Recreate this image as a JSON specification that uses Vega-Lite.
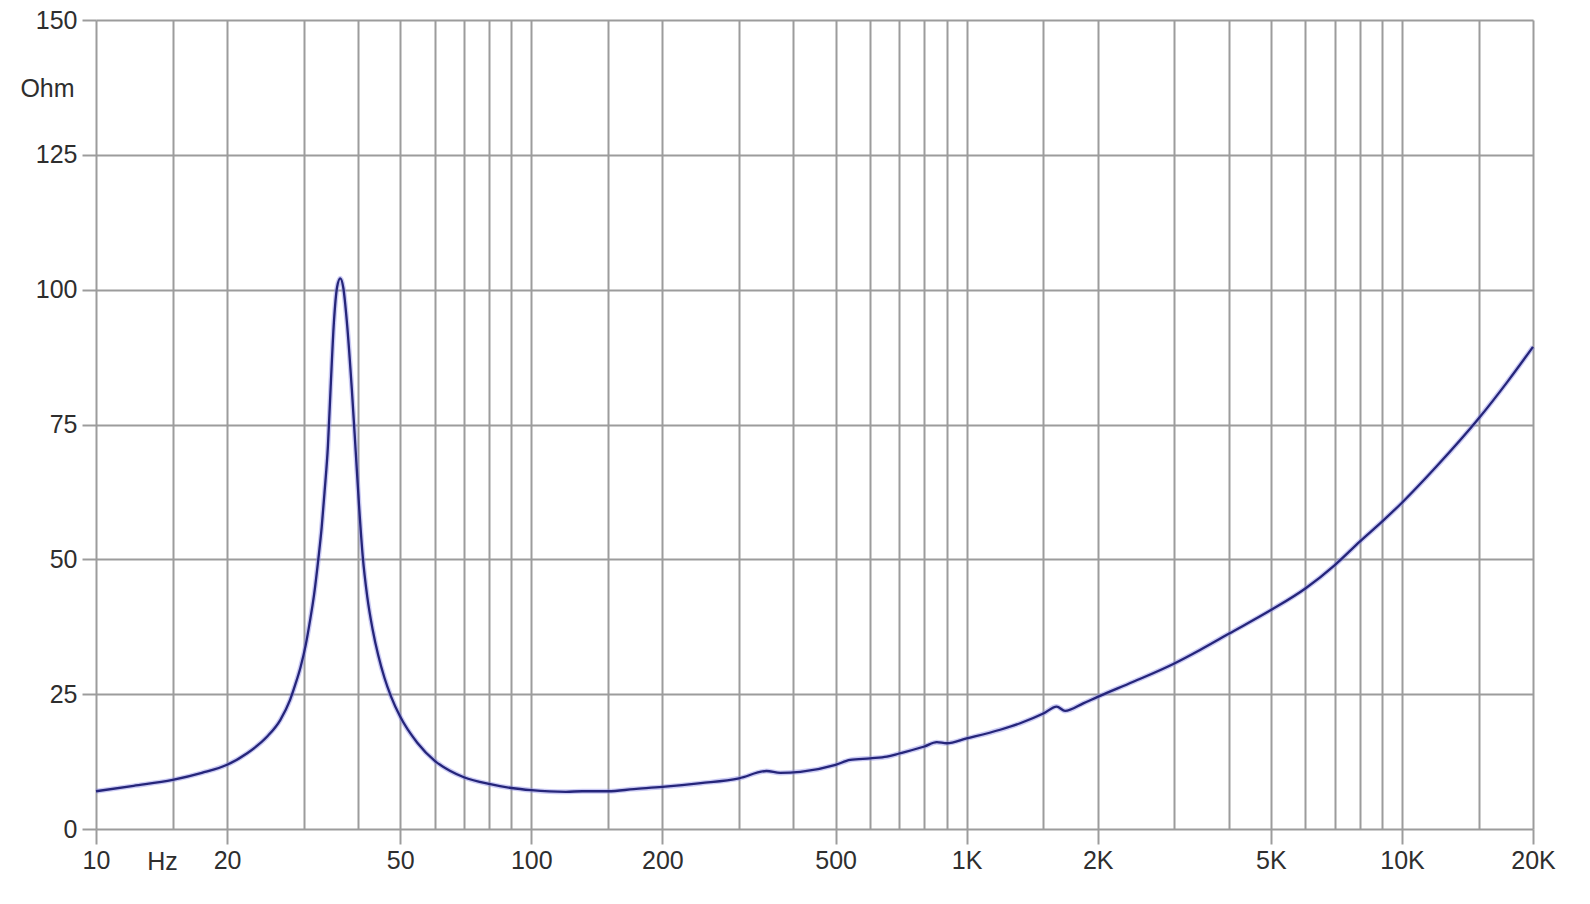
{
  "$schema": "https://vega.github.io/schema/vega-lite/v6.json",
  "width": 1437,
  "height": 809,
  "autosize": {"type": "none"},
  "padding": {"left": 96, "top": 20, "right": 57, "bottom": 75},
  "background": "white",
  "data": {
    "values": [
      {"freq": 10, "ohm": 7.0},
      {"freq": 12.2, "ohm": 8.0},
      {"freq": 15, "ohm": 9.1},
      {"freq": 17.5, "ohm": 10.4},
      {"freq": 20, "ohm": 11.9},
      {"freq": 22.2, "ohm": 14.0},
      {"freq": 24.7, "ohm": 17.1},
      {"freq": 26.5, "ohm": 20.2},
      {"freq": 27.9, "ohm": 23.9},
      {"freq": 28.7, "ohm": 26.8},
      {"freq": 29.5, "ohm": 30.0},
      {"freq": 30.3, "ohm": 34.0},
      {"freq": 31.0, "ohm": 38.5},
      {"freq": 31.7, "ohm": 43.5},
      {"freq": 32.4, "ohm": 49.9},
      {"freq": 33.0, "ohm": 56.0},
      {"freq": 33.5, "ohm": 62.5},
      {"freq": 34.1, "ohm": 71.0},
      {"freq": 34.6, "ohm": 82.0},
      {"freq": 35.2, "ohm": 94.0},
      {"freq": 35.8, "ohm": 100.5},
      {"freq": 36.4, "ohm": 102.1},
      {"freq": 37.0, "ohm": 100.3},
      {"freq": 37.7, "ohm": 94.0},
      {"freq": 38.7, "ohm": 81.5},
      {"freq": 39.5, "ohm": 70.0},
      {"freq": 40.2, "ohm": 60.0},
      {"freq": 41.0, "ohm": 50.5},
      {"freq": 42.0, "ohm": 43.0},
      {"freq": 43.2, "ohm": 37.0},
      {"freq": 44.5, "ohm": 32.2},
      {"freq": 46.0, "ohm": 28.0},
      {"freq": 47.6, "ohm": 24.6},
      {"freq": 50, "ohm": 20.8},
      {"freq": 54.7, "ohm": 16.0},
      {"freq": 60.1, "ohm": 12.6},
      {"freq": 65, "ohm": 10.8},
      {"freq": 70, "ohm": 9.6},
      {"freq": 80.5, "ohm": 8.3},
      {"freq": 90, "ohm": 7.6},
      {"freq": 100, "ohm": 7.2},
      {"freq": 120, "ohm": 6.9},
      {"freq": 131, "ohm": 7.0},
      {"freq": 150, "ohm": 7.0},
      {"freq": 172, "ohm": 7.4},
      {"freq": 200, "ohm": 7.8},
      {"freq": 245, "ohm": 8.5},
      {"freq": 300, "ohm": 9.4},
      {"freq": 347, "ohm": 10.75},
      {"freq": 373, "ohm": 10.4},
      {"freq": 415, "ohm": 10.6},
      {"freq": 500, "ohm": 11.9},
      {"freq": 540, "ohm": 12.8},
      {"freq": 600, "ohm": 13.1},
      {"freq": 656, "ohm": 13.4},
      {"freq": 700, "ohm": 14.0},
      {"freq": 800, "ohm": 15.3},
      {"freq": 854, "ohm": 16.1},
      {"freq": 900, "ohm": 15.9},
      {"freq": 1000, "ohm": 16.8},
      {"freq": 1194, "ohm": 18.4},
      {"freq": 1327, "ohm": 19.6},
      {"freq": 1500, "ohm": 21.4},
      {"freq": 1610, "ohm": 22.7},
      {"freq": 1683, "ohm": 21.9},
      {"freq": 1853, "ohm": 23.3},
      {"freq": 2000, "ohm": 24.5},
      {"freq": 2414, "ohm": 27.3},
      {"freq": 3000, "ohm": 30.7},
      {"freq": 3436, "ohm": 33.2},
      {"freq": 4000, "ohm": 36.2},
      {"freq": 5000, "ohm": 40.6},
      {"freq": 6000, "ohm": 44.6},
      {"freq": 7000, "ohm": 48.9},
      {"freq": 8000, "ohm": 53.3},
      {"freq": 9000, "ohm": 57.0},
      {"freq": 10000, "ohm": 60.5},
      {"freq": 12000, "ohm": 67.2},
      {"freq": 15000, "ohm": 76.1},
      {"freq": 17500, "ohm": 83.0},
      {"freq": 20000, "ohm": 89.4}
    ]
  },
  "encoding": {
    "x": {
      "field": "freq",
      "type": "quantitative",
      "scale": {"type": "log", "domain": [10, 20000], "nice": false},
      "axis": {
        "values": [10, 15, 20, 30, 40, 50, 60, 70, 80, 90, 100, 150, 200, 300, 400, 500, 600, 700, 800, 900, 1000, 1500, 2000, 3000, 4000, 5000, 6000, 7000, 8000, 9000, 10000, 15000, 20000],
        "labelExpr": "indexof([10,20,50,100,200,500,1000,2000,5000,10000,20000], datum.value) < 0 ? '' : datum.value >= 1000 ? (datum.value / 1000) + 'K' : '' + datum.value",
        "tickOpacity": {"condition": {"test": "indexof([10,20,50,100,200,500,1000,2000,5000,10000,20000], datum.value) >= 0", "value": 1}, "value": 0},
        "tickSize": 15,
        "labelPadding": 4,
        "labelOverlap": false,
        "labelFlush": false,
        "labelBound": false,
        "domain": false,
        "title": "Hz",
        "titleX": 66,
        "titleY": 32,
        "titleAlign": "center",
        "titleBaseline": "middle",
        "titleAnchor": null
      }
    },
    "y": {
      "field": "ohm",
      "type": "quantitative",
      "scale": {"domain": [0, 150], "nice": false},
      "axis": {
        "values": [0, 25, 50, 75, 100, 125, 150],
        "tickSize": 14,
        "labelPadding": 5,
        "domain": false,
        "title": "Ohm",
        "titleAngle": 0,
        "titleX": -49,
        "titleY": 68,
        "titleAlign": "center",
        "titleBaseline": "middle",
        "titleAnchor": null
      }
    }
  },
  "layer": [
    {"mark": {"type": "line", "stroke": "#8c8ce6", "strokeWidth": 5, "opacity": 0.45, "interpolate": "monotone"}},
    {"mark": {"type": "line", "stroke": "#25257a", "strokeWidth": 2.3, "interpolate": "monotone"}}
  ],
  "config": {
    "view": {"stroke": null},
    "axis": {
      "grid": true,
      "gridColor": "#9c9c9c",
      "gridWidth": 2,
      "gridOpacity": 1,
      "tickColor": "#9c9c9c",
      "tickWidth": 2,
      "labelFont": "Liberation Sans",
      "labelFontSize": 25,
      "labelColor": "#2e2e2e",
      "titleFont": "Liberation Sans",
      "titleFontSize": 25,
      "titleFontWeight": "normal",
      "titleColor": "#2e2e2e"
    }
  }
}
